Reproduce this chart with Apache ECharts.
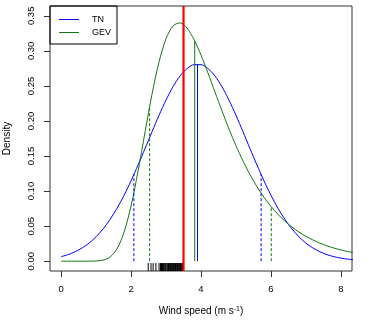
<!DOCTYPE html>
<html>
<head>
<meta charset="utf-8">
<script src="https://cdn.jsdelivr.net/npm/echarts@6/dist/echarts.min.js"></script>
<style>
  html, body { margin: 0; padding: 0; background: #fff; }
  #chart { width: 374px; height: 324px; }
</style>
</head>
<body>
<div id="chart"></div>
<script>
// density curves
const densityX = [0.0, 0.2, 0.4, 0.6, 0.8, 1.0, 1.2, 1.4, 1.6, 1.8, 2.0, 2.2, 2.4, 2.6, 2.8, 3.0, 3.2, 3.4, 3.6, 3.8, 4.0,
  4.2, 4.4, 4.6, 4.8, 5.0, 5.2, 5.4, 5.6, 5.8, 6.0, 6.2, 6.4, 6.6, 6.8, 7.0, 7.2, 7.4, 7.6, 7.8, 8.0, 8.2, 8.4]
const tnDensity = [0.0065, 0.0094, 0.0135, 0.0189, 0.0259, 0.0349, 0.0461, 0.0597, 0.0757, 0.0941, 0.1148, 0.1373,
  0.1608, 0.1848, 0.2082, 0.2299, 0.2489, 0.2641, 0.2748, 0.2803, 0.2803, 0.2748, 0.2641, 0.2489, 0.2299, 0.2082,
  0.1848, 0.1608, 0.1373, 0.1148, 0.0941, 0.0757, 0.0597, 0.0461, 0.0349, 0.0259, 0.0189, 0.0135, 0.0094, 0.0065,
  0.0044, 0.0029, 0.0019]
const gevDensity = [0, 0, 0, 0, 0.0000, 0.0003, 0.0015, 0.0060, 0.0179, 0.0416, 0.0791, 0.1287, 0.1844, 0.2386,
  0.2844, 0.3173, 0.3356, 0.3399, 0.3325, 0.3162, 0.2940, 0.2683, 0.2413, 0.2144, 0.1887, 0.1648, 0.1431, 0.1236,
  0.1064, 0.0913, 0.0782, 0.0669, 0.0571, 0.0487, 0.0416, 0.0355, 0.0303, 0.0258, 0.0220, 0.0188, 0.0161, 0.0138,
  0.0118]

// quantile (dashed) and median (solid) lines
const tnQuantX = [2.08, 5.72]
const tnQuantY = [0.124, 0.124]
const gevQuantX = [2.53, 6.01]
const gevQuantY = [0.220, 0.078]
const tnMedianX = 3.90
const tnMedianY = 0.281
const gevMedianX = 3.82
const gevMedianY = 0.314
const observedX = 3.50

// observations shown as a rug
const rugX = [2.49, 2.57, 2.63, 2.71, 2.80, 2.84, 2.87, 2.90, 2.93, 2.95, 2.98, 3.00, 3.03, 3.05, 3.07, 3.09, 3.11,
  3.13, 3.15, 3.17, 3.19, 3.21, 3.23, 3.25, 3.27, 3.29, 3.31, 3.33, 3.35, 3.37, 3.39, 3.41, 3.43, 3.45, 3.47, 3.50]

const xTicks = [0, 2, 4, 6, 8]
const yTicks = [0, 0.05, 0.10, 0.15, 0.20, 0.25, 0.30, 0.35]
const X_MIN = -0.32, X_MAX = 8.32
const Y_MIN = -0.014, Y_MAX = 0.364

const BLUE = '#0000ff'
const GREEN = '#117711'
const FONT = 'Liberation Sans, Arial, sans-serif'

function zip(xs, ys) {
  return xs.map((x, i) => [x, ys[i]])
}

// vertical segment from 0 up to the curve
function segment(x, top, color, dashed) {
  return {
    type: 'line',
    data: [[x, 0], [x, top]],
    symbol: 'none',
    silent: true,
    color: color,
    itemStyle: {color: color},
    lineStyle: {color: color, width: 1, type: dashed ? [3, 2] : 'solid'},
    z: 3
  }
}

const chart = echarts.init(document.getElementById('chart'), null, {renderer: 'canvas'})

let series = [
  {
    name: 'TN', type: 'line', data: zip(densityX, tnDensity), symbol: 'none', smooth: 0.3,
    color: BLUE, itemStyle: {color: BLUE}, lineStyle: {color: BLUE, width: 1}, clip: true, z: 2
  },
  {
    name: 'GEV', type: 'line', data: zip(densityX, gevDensity), symbol: 'none', smooth: 0.3,
    color: GREEN, itemStyle: {color: GREEN}, lineStyle: {color: GREEN, width: 1}, clip: true, z: 2
  }
]
tnQuantX.forEach((x, i) => series.push(segment(x, tnQuantY[i], BLUE, true)))
gevQuantX.forEach((x, i) => series.push(segment(x, gevQuantY[i], GREEN, true)))
series.push(segment(tnMedianX, tnMedianY, BLUE, false))
series.push(segment(gevMedianX, gevMedianY, GREEN, false))
// observed value, full height
series.push({
  type: 'line', data: [[observedX, Y_MIN], [observedX, Y_MAX]], symbol: 'none', silent: true,
  color: '#ff0000', lineStyle: {color: '#ff0000', width: 2.2}, z: 4
})
// rug along the bottom
series.push({
  type: 'custom',
  data: rugX.map(v => [v, Y_MIN]),
  silent: true,
  z: 3,
  renderItem: function (params, api) {
    const p0 = api.coord([api.value(0), Y_MIN])
    const p1 = api.coord([api.value(0), Y_MIN + 0.03 * (Y_MAX - Y_MIN)])
    return {
      type: 'line',
      shape: {x1: p0[0], y1: p0[1], x2: p1[0], y2: p1[1]},
      style: {stroke: '#000', lineWidth: 1}
    }
  }
})

chart.setOption({
  animation: false,
  backgroundColor: '#fff',
  textStyle: {fontFamily: FONT},
  grid: {
    left: 50, right: 22, top: 6, bottom: 53,
    containLabel: false,
    outerBoundsMode: 'none',
    show: true, borderColor: '#333', borderWidth: 1
  },
  legend: {
    data: [
      {name: 'TN', icon: 'rect', itemStyle: {color: BLUE, borderWidth: 0}},
      {name: 'GEV', icon: 'rect', itemStyle: {color: GREEN, borderWidth: 0}}
    ],
    orient: 'vertical',
    left: 50, top: 6,
    padding: [7, 6, 5, 9],
    itemGap: 0,
    itemWidth: 20,
    itemHeight: 1,
    borderColor: '#000',
    borderWidth: 1,
    textStyle: {fontSize: 9, color: '#000', lineHeight: 13, padding: [0, 0, 0, 8], fontFamily: FONT}
  },
  xAxis: {
    type: 'value',
    min: X_MIN, max: X_MAX,
    splitLine: {show: false},
    axisLine: {show: false, onZero: false},
    axisTick: {show: true, customValues: xTicks, length: 6, lineStyle: {color: '#333'}},
    axisLabel: {customValues: xTicks, margin: 13, fontSize: 9.5, color: '#000', fontFamily: FONT},
    name: '{t|Wind speed (m s}{s|-1}{t|)}',
    nameLocation: 'middle',
    nameGap: 35,
    nameTextStyle: {
      rich: {
        t: {fontSize: 10, color: '#000', fontFamily: FONT},
        s: {fontSize: 7, color: '#000', fontFamily: FONT, verticalAlign: 'top', lineHeight: 8}
      }
    }
  },
  yAxis: {
    type: 'value',
    min: Y_MIN, max: Y_MAX,
    splitLine: {show: false},
    axisLine: {show: false, onZero: false},
    axisTick: {show: true, customValues: yTicks, length: 6, lineStyle: {color: '#333'}},
    axisLabel: {
      customValues: yTicks, rotate: 90, margin: 14, align: 'center', verticalAlign: 'bottom',
      fontSize: 9.5, color: '#000', fontFamily: FONT,
      formatter: v => v.toFixed(2)
    },
    name: 'Density',
    nameLocation: 'middle',
    nameRotate: 90,
    nameGap: 38,
    nameTextStyle: {fontSize: 10, color: '#000', fontFamily: FONT}
  },
  series: series
})
</script>
</body>
</html>
